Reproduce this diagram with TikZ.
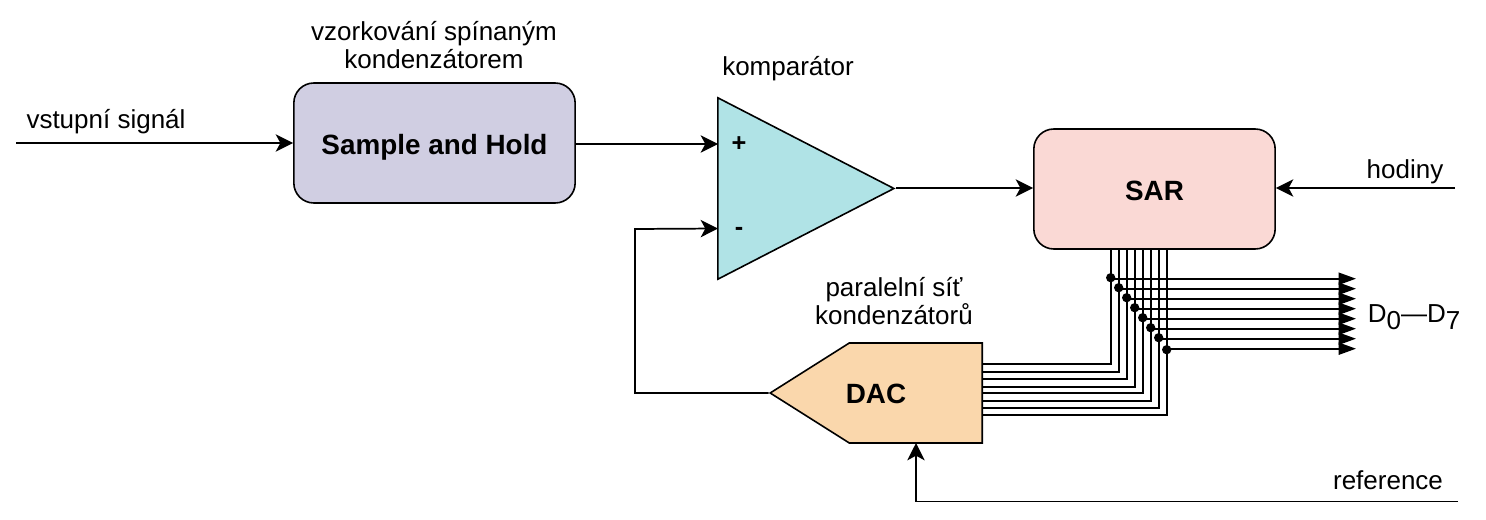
\documentclass[tikz,border=0pt]{standalone}
\usepackage{fontspec}
\setmainfont{Liberation Sans}
\usetikzlibrary{arrows.meta,shapes.geometric,shapes.symbols}
\definecolor{vpurple}{HTML}{D0CEE2}
\definecolor{vpink}{HTML}{FAD9D5}
\definecolor{vcyan}{HTML}{B0E3E6}
\definecolor{vorange}{HTML}{FAD7AC}
\tikzset{
	block/.style={draw, line width=1.2pt, rounded corners=15pt, font=\fontsize{20.9}{25}\selectfont\bfseries, inner sep=0pt, text height=17pt, text depth=0pt},
	label/.style={font=\fontsize{19.5}{20.5}\selectfont, align=center, inner sep=0pt},
	wire/.style={line width=1.3pt, -{Stealth[length=13pt,width=13pt,inset=3.5pt]}},
	bus/.style={line width=1.3pt},
	tap/.style={line width=1.4pt, -{Triangle[length=13pt,width=9pt]}},
	dot/.style={circle, fill, inner sep=0pt, minimum size=7pt}
}
\begin{document}
\begin{tikzpicture}[x=0.75pt, y=-0.75pt]
		\useasboundingbox (0,0) rectangle (1486,520);
		\node[block, fill=vpurple, minimum width=211pt, minimum height=90pt] (sample) at (434.5,143) {Sample and Hold};
		\node[block, fill=vpink, minimum width=181pt, minimum height=90pt] (sar) at (1154.5,189) {SAR};
		\node[draw, line width=1.2pt, fill=vcyan, isosceles triangle, isosceles triangle stretches, minimum height=132pt, minimum width=136pt, inner sep=0pt, anchor=apex] (comp) at (896,188.5) {};
		\node[draw, line width=1.2pt, fill=vorange, signal, signal to=west, signal pointer angle=64.6, minimum width=159pt, minimum height=75pt, inner sep=0pt, anchor=east] (dac) at (983,393) {};

		\node[label, font=\fontsize{20.9}{25}\selectfont\bfseries] (ldac) at (876,394) {DAC};
		\node[label] (lsample) at (434,45) {vzorkování spínaným\\kondenzátorem};
		\node[label] (lcomp) at (788,69) {komparátor};
		\node[label] (lin) at (106,122) {vstupní signál};
		\node[label] (lclk) at (1405,172) {hodiny};
		\node[label] (lref) at (1388,480) {reference};
		\node[label] (lnet) at (894,301) {paralelní síť\\kondenzátorů};
		\node[label] (lout) at (1414,317) {D\raisebox{-5pt}{0}—D\raisebox{-5pt}{7}};
		\node[label, font=\fontsize{19}{22}\selectfont\bfseries] (lplus) at (739,144) {+};
		\node[label, font=\fontsize{19}{22}\selectfont\bfseries] (lminus) at (739,231) {-};

		\coordinate (in) at (16,143);
		\coordinate (clk) at (1455,188);
		\coordinate (ref) at (1458,501.5);
		\coordinate (plus) at (718,144);
		\coordinate (minus) at (718,228.5);
		\coordinate (bend) at (635,229);

		\draw[wire] (in) -- (in -| sample.west);
		\draw[wire] (sample.east |- plus) -- (plus);
		\draw[wire] (comp.apex |- clk) -- (clk -| sar.west);
		\draw[wire] (clk) -- (clk -| sar.east);
		\draw[wire] (ref) -| (916,443);
		\draw[wire] (dac.west) -| (bend) -- (minus);

		\coordinate (S0) at (1110.7,249);
		\coordinate (S1) at (1118.7,249);
		\coordinate (S2) at (1126.7,249);
		\coordinate (S3) at (1134.7,249);
		\coordinate (S4) at (1142.7,249);
		\coordinate (S5) at (1150.7,249);
		\coordinate (S6) at (1158.7,249);
		\coordinate (S7) at (1166.7,249);
		\coordinate (D0) at (983,363.7);
		\coordinate (D1) at (983,371.7);
		\coordinate (D2) at (983,379);
		\coordinate (D3) at (983,386.7);
		\coordinate (D4) at (983,393.3);
		\coordinate (D5) at (983,401);
		\coordinate (D6) at (983,407.7);
		\coordinate (D7) at (983,415);
		\draw[bus] (S0) |- (D0);
		\draw[bus] (S1) |- (D1);
		\draw[bus] (S2) |- (D2);
		\draw[bus] (S3) |- (D3);
		\draw[bus] (S4) |- (D4);
		\draw[bus] (S5) |- (D5);
		\draw[bus] (S6) |- (D6);
		\draw[bus] (S7) |- (D7);

		\node[dot] (T0) at (1110.7,277.7) {};
		\node[dot] (T1) at (1118.7,287.7) {};
		\node[dot] (T2) at (1126.7,297.7) {};
		\node[dot] (T3) at (1134.7,307.7) {};
		\node[dot] (T4) at (1142.7,317.7) {};
		\node[dot] (T5) at (1150.7,327.7) {};
		\node[dot] (T6) at (1158.7,337.7) {};
		\node[dot] (T7) at (1166.7,349.7) {};
		\coordinate (O0) at (1356,278.7);
		\coordinate (O1) at (1356,288.7);
		\coordinate (O2) at (1356,298.7);
		\coordinate (O3) at (1356,308.7);
		\coordinate (O4) at (1356,318.7);
		\coordinate (O5) at (1356,328.7);
		\coordinate (O6) at (1356,338.7);
		\coordinate (O7) at (1356,348.7);
		\draw[tap] (T0 |- O0) -- (O0);
		\draw[tap] (T1 |- O1) -- (O1);
		\draw[tap] (T2 |- O2) -- (O2);
		\draw[tap] (T3 |- O3) -- (O3);
		\draw[tap] (T4 |- O4) -- (O4);
		\draw[tap] (T5 |- O5) -- (O5);
		\draw[tap] (T6 |- O6) -- (O6);
		\draw[tap] (T7 |- O7) -- (O7);
	\end{tikzpicture}
\end{document}
